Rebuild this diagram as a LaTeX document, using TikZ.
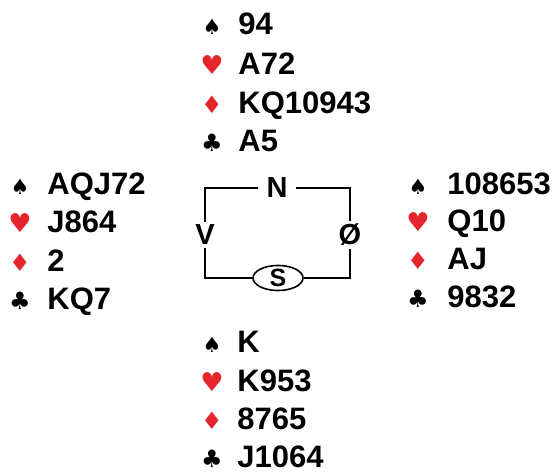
\documentclass[tikz,border=0pt]{standalone}
\usepackage{fontspec}
\setmainfont{Liberation Sans}
\newfontfamily\suitfont{DejaVu Sans}
\usetikzlibrary{shapes.geometric}
\definecolor{suitred}{RGB}{228,38,44}
\tikzset{
  cards/.style={anchor=base west, inner sep=0pt, font=\fontsize{15.5}{15.5}\selectfont\bfseries},
  spadesuit/.style={anchor=base, inner sep=0pt, font=\suitfont\fontsize{10.5}{10}\selectfont},
  clubsuit/.style={anchor=base, inner sep=0pt, font=\suitfont\fontsize{12}{10}\selectfont},
  heartsuit/.style={anchor=base, inner sep=0pt, text=suitred, font=\suitfont\fontsize{13}{10}\selectfont},
  diamondsuit/.style={anchor=base, inner sep=0pt, text=suitred, font=\suitfont\fontsize{12}{10}\selectfont},
  seat/.style={inner xsep=4pt, inner ysep=1.5pt, font=\fontsize{14.5}{14}\selectfont\bfseries}
}
\begin{document}
\begin{tikzpicture}[x=0.5pt, y=-0.5pt]
    \useasboundingbox[fill=white] (0,0) rectangle (553,474);

      % nord
      \node[spadesuit] (ns) at (212, 35) {♠};
      \node[cards] (nst) at (238, 35) {94};
      \node[heartsuit] (nh) at (212, 75) {♥};
      \node[cards] (nht) at (238, 75) {A72};
      \node[diamondsuit] (nd) at (212, 114) {♦};
      \node[cards] (ndt) at (238, 114) {KQ10943};
      \node[clubsuit] (nc) at (212, 152) {♣};
      \node[cards] (nct) at (238, 152) {A5};

      % vest
      \node[spadesuit] (vs) at (20, 195) {♠};
      \node[cards] (vst) at (47, 195) {AQJ72};
      \node[heartsuit] (vh) at (20, 233) {♥};
      \node[cards] (vht) at (47, 233) {J864};
      \node[diamondsuit] (vd) at (20, 272) {♦};
      \node[cards] (vdt) at (47, 272) {2};
      \node[clubsuit] (vc) at (20, 310) {♣};
      \node[cards] (vct) at (47, 310) {KQ7};

      % øst
      \node[spadesuit] (os) at (418, 195) {♠};
      \node[cards] (ost) at (447, 195) {108653};
      \node[heartsuit] (oh) at (418, 232) {♥};
      \node[cards] (oht) at (447, 232) {Q10};
      \node[diamondsuit] (od) at (418, 270) {♦};
      \node[cards] (odt) at (447, 270) {AJ};
      \node[clubsuit] (oc) at (418, 308) {♣};
      \node[cards] (oct) at (447, 308) {9832};

      % syd
      \node[spadesuit] (ss) at (212, 353) {♠};
      \node[cards] (sst) at (237, 353) {K};
      \node[heartsuit] (sh) at (212, 392) {♥};
      \node[cards] (sht) at (237, 392) {K953};
      \node[diamondsuit] (sd) at (212, 430) {♦};
      \node[cards] (sdt) at (237, 430) {8765};
      \node[clubsuit] (sc) at (212, 468) {♣};
      \node[cards] (sct) at (237, 468) {J1064};

      % bordet
      \node[seat] (N) at (277, 188) {N};
      \node[seat] (V) at (205, 235) {V};
      \node[seat] (O) at (350, 235) {Ø};
      \node[draw, ellipse, line width=0.8pt, minimum width=25pt, minimum height=12pt, inner sep=0pt,
            font=\fontsize{12.5}{12}\selectfont\bfseries] (S) at (278, 278) {S};

      \draw[line width=1.3pt] (N) -| (V);
      \draw[line width=1.3pt] (V) |- (S);
      \draw[line width=1.3pt] (S) -| (O);
      \draw[line width=1.3pt] (O) |- (N);

\end{tikzpicture}
\end{document}
